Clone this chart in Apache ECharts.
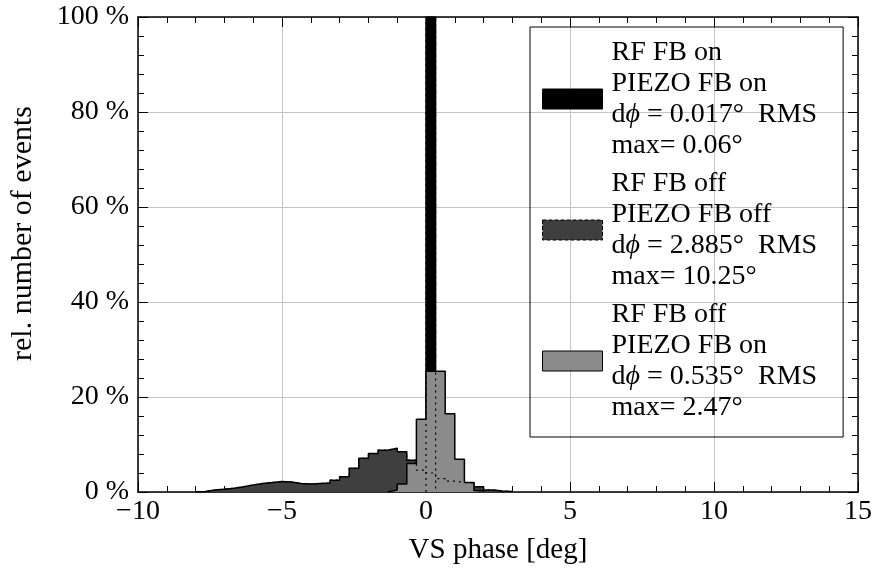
<!DOCTYPE html>
<html><head><meta charset="utf-8">
<script src="https://cdn.jsdelivr.net/npm/echarts@6/dist/echarts.min.js"></script>
<style>html,body{margin:0;padding:0;background:#fff}#c{width:889px;height:572px}</style>
</head><body><div id="c"></div>
<script>
// ---- data (histograms, bin width 1/3 deg, values in % of events) ----
const binWidth = 1 / 3;
const blackStart = 0;
const blackValues = [100];
const darkStart = -8;
const darkValues = [0.1, 0.4, 0.6, 0.8, 1.1, 1.5, 1.8, 2.0, 2.2, 2.1, 1.8, 1.7, 1.8, 1.9, 2.5, 3.2,
  5.0, 7.1, 8.1, 8.8, 9.2, 8.5, 6.7, 4.6, 4.0, 2.8, 2.3, 2.0, 1.9, 1.1, 0.4, 0.2, 0.1];
const grayStart = -4 / 3;
const grayValues = [0.4, 1.7, 6.0, 15.3, 25.4, 25.4, 16.5, 6.9, 2.0, 0.3];

const seriesNames = ['s1', 's2', 's3'];
const legendLines = [
  ['RF FB on', 'PIEZO FB on', 'd{i|ϕ} = 0.017°  RMS', 'max= 0.06°'],
  ['RF FB off', 'PIEZO FB off', 'd{i|ϕ} = 2.885°  RMS', 'max= 10.25°'],
  ['RF FB off', 'PIEZO FB on', 'd{i|ϕ} = 0.535°  RMS', 'max= 2.47°']
];
const xMin = -10, xMax = 15, xStep = 5;
const yMin = 0, yMax = 100, yStep = 20;
const xTitle = 'VS phase [deg]';
const yTitle = 'rel. number of events';

// ---- helpers ----
function steps(start, vals) {
  const pts = [[start, 0]];
  vals.forEach((v, i) => pts.push([start + i * binWidth, v]));
  pts.push([start + vals.length * binWidth, 0]);
  return pts;
}
const FONT = '"Liberation Serif", "DejaVu Serif", serif';
const fillBlack = '#000000', fillDark = '#3f3f3f', fillGray = '#8b8b8b';

function xAxisCfg(pos, labels) {
  return {
    type: 'value', position: pos, min: xMin, max: xMax, interval: xStep,
    axisLine: { show: true, onZero: false, lineStyle: { color: '#000', width: 1.5 } },
    axisTick: { show: true, inside: true, length: 10, lineStyle: { color: '#000', width: 1 } },
    minorTick: { show: true, splitNumber: 5, length: 6, lineStyle: { color: '#000', width: 1 } },
    splitLine: { show: labels, lineStyle: { color: '#c4c4c4', width: 1 } },
    axisLabel: {
      show: labels, color: '#000', fontFamily: FONT, fontSize: 28, margin: 6,
      formatter: v => (v < 0 ? '\u2212' + Math.abs(v) : String(v))
    },
    name: labels ? xTitle : '', nameLocation: 'middle', nameGap: 44,
    nameTextStyle: { color: '#000', fontFamily: FONT, fontSize: 29 }
  };
}
function yAxisCfg(pos, labels) {
  return {
    type: 'value', position: pos, min: yMin, max: yMax, interval: yStep,
    axisLine: { show: true, onZero: false, lineStyle: { color: '#000', width: 1.5 } },
    axisTick: { show: true, inside: true, length: 10, lineStyle: { color: '#000', width: 1 } },
    minorTick: { show: true, splitNumber: 5, length: 6, lineStyle: { color: '#000', width: 1 } },
    splitLine: { show: labels, lineStyle: { color: '#c4c4c4', width: 1 } },
    axisLabel: {
      show: labels, color: '#000', fontFamily: FONT, fontSize: 28, margin: 9,
      formatter: v => v + ' %'
    },
    name: labels ? yTitle : '', nameLocation: 'middle', nameGap: 100,
    nameTextStyle: { color: '#000', fontFamily: FONT, fontSize: 30, padding: [0, 0, 0, 42] }
  };
}
function histSeries(name, start, vals, fill, z) {
  return {
    name: name, type: 'line', step: 'end', xAxisIndex: 0, yAxisIndex: 0,
    data: steps(start, vals), showSymbol: false, symbol: 'none', z: z,
    lineStyle: { color: '#000', width: 1.5 },
    itemStyle: { color: fill },
    areaStyle: { color: fill, opacity: 1 },
    silent: true
  };
}
function outlineSeries(start, vals, z) {
  return {
    name: 'outline' + z, type: 'line', step: 'end', xAxisIndex: 0, yAxisIndex: 0,
    data: steps(start, vals), showSymbol: false, symbol: 'none', z: z,
    lineStyle: { color: '#000', width: 1.2, type: [2, 4] }, silent: true
  };
}

const chart = echarts.init(document.getElementById('c'), null, { renderer: 'canvas' });
chart.setOption({
  animation: false,
  backgroundColor: '#fff',
  grid: { left: 138, right: 31, top: 17, bottom: 80, containLabel: false },
  xAxis: [xAxisCfg('bottom', true), xAxisCfg('top', false)],
  yAxis: [yAxisCfg('left', true), yAxisCfg('right', false)],
  legend: {
    orient: 'vertical', left: 530, top: 27,
    padding: [10, 26, 14, 12], itemWidth: 60, itemHeight: 20, itemGap: 7,
    borderColor: '#000', borderWidth: 1, selectedMode: false,
    data: [
      { name: 's1', icon: 'rect', itemStyle: { color: fillBlack, borderColor: '#000', borderWidth: 1 } },
      { name: 's2', icon: 'rect', itemStyle: { color: fillDark, borderColor: '#000', borderWidth: 1, borderType: 'dashed' } },
      { name: 's3', icon: 'rect', itemStyle: { color: fillGray, borderColor: '#000', borderWidth: 1 } }
    ],
    formatter: name => legendLines[seriesNames.indexOf(name)].join('\n'),
    textStyle: {
      color: '#000', fontFamily: FONT, fontSize: 28, lineHeight: 31, padding: [0, 0, 0, 4],
      rich: { i: { fontStyle: 'italic', fontFamily: FONT, fontSize: 28, lineHeight: 31, color: '#000' } }
    }
  },
  series: [
    histSeries('s1', blackStart, blackValues, fillBlack, 2),
    histSeries('s2', darkStart, darkValues, fillDark, 3),
    histSeries('s3', grayStart, grayValues, fillGray, 4),
    outlineSeries(blackStart, blackValues, 5),
    outlineSeries(darkStart, darkValues, 6)
  ]
});
</script></body></html>
